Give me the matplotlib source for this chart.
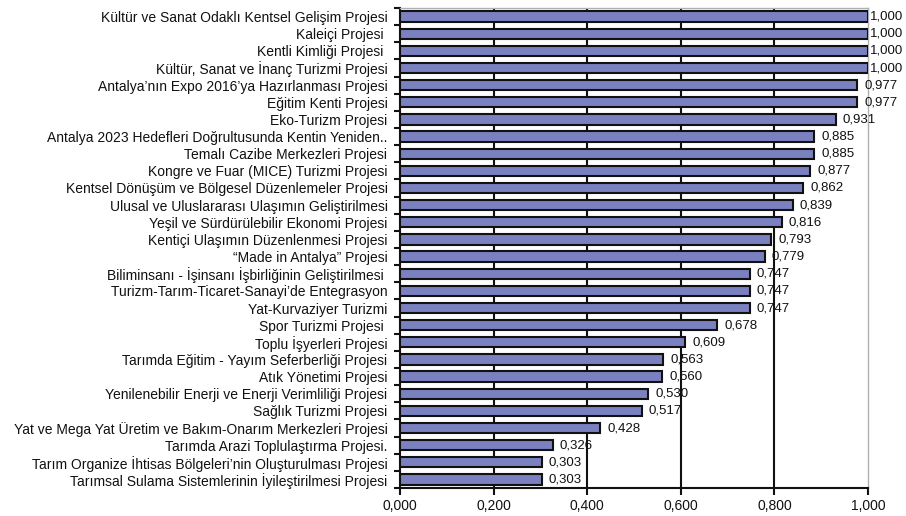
import matplotlib
matplotlib.use("Agg")
import matplotlib.pyplot as plt
import numpy as np

plt.rcParams['font.family'] = ['Liberation Sans', 'DejaVu Sans']

categories = [
    "Kültür ve Sanat Odaklı Kentsel Gelişim Projesi",
    "Kaleiçi Projesi ",
    "Kentli Kimliği Projesi ",
    "Kültür, Sanat ve İnanç Turizmi Projesi",
    "Antalya’nın Expo 2016’ya Hazırlanması Projesi",
    "Eğitim Kenti Projesi",
    "Eko-Turizm Projesi",
    "Antalya 2023 Hedefleri Doğrultusunda Kentin Yeniden..",
    "Temalı Cazibe Merkezleri Projesi",
    "Kongre ve Fuar (MICE) Turizmi Projesi",
    "Kentsel Dönüşüm ve Bölgesel Düzenlemeler Projesi",
    "Ulusal ve Uluslararası Ulaşımın Geliştirilmesi",
    "Yeşil ve Sürdürülebilir Ekonomi Projesi",
    "Kentiçi Ulaşımın Düzenlenmesi Projesi",
    "“Made in Antalya” Projesi",
    "Biliminsanı - İşinsanı İşbirliğinin Geliştirilmesi ",
    "Turizm-Tarım-Ticaret-Sanayi’de Entegrasyon",
    "Yat-Kurvaziyer Turizmi",
    "Spor Turizmi Projesi ",
    "Toplu İşyerleri Projesi",
    "Tarımda Eğitim - Yayım Seferberliği Projesi",
    "Atık Yönetimi Projesi",
    "Yenilenebilir Enerji ve Enerji Verimliliği Projesi",
    "Sağlık Turizmi Projesi",
    "Yat ve Mega Yat Üretim ve Bakım-Onarım Merkezleri Projesi",
    "Tarımda Arazi Toplulaştırma Projesi.",
    "Tarım Organize İhtisas Bölgeleri’nin Oluşturulması Projesi",
    "Tarımsal Sulama Sistemlerinin İyileştirilmesi Projesi",
]
values = [1.000, 1.000, 1.000, 1.000, 0.977, 0.977, 0.931, 0.885, 0.885, 0.877,
          0.862, 0.839, 0.816, 0.793, 0.779, 0.747, 0.747, 0.747, 0.678, 0.609,
          0.563, 0.560, 0.530, 0.517, 0.428, 0.326, 0.303, 0.303]
xticks = [0.0, 0.2, 0.4, 0.6, 0.8, 1.0]
xtick_labels = ["0,000", "0,200", "0,400", "0,600", "0,800", "1,000"]

fig = plt.figure(figsize=(9.06, 5.16), dpi=100)
ax = fig.add_axes([400/906, 1 - 488/516, 468/906, 480/516])

n = len(categories)
y = np.arange(n)
ax.barh(y, values, height=0.6, color='#7a80c0', edgecolor='#111111', linewidth=1.5, zorder=3)

ax.set_ylim(n - 0.5, -0.5)
ax.set_xlim(0, 1.0)

ax.set_yticks(y)
ax.set_yticklabels(categories, fontsize=10, color='#111111')
ax.tick_params(axis='y', which='major', length=0, pad=9)
ax.set_yticks(np.arange(n + 1) - 0.5, minor=True)
ax.tick_params(axis='y', which='minor', length=4, width=1.5, direction='out', color='#111111')

ax.set_xticks(xticks)
ax.set_xticklabels(xtick_labels, fontsize=10, color='#111111')
ax.tick_params(axis='x', length=5, width=1.5, direction='out', pad=3, color='#111111')

for xv in xticks[1:-1]:
    ax.axvline(xv, color='#111111', linewidth=1.5, zorder=1)

for s in ['left', 'bottom']:
    ax.spines[s].set_color('#111111')
    ax.spines[s].set_linewidth(1.5)
for s in ['right', 'top']:
    ax.spines[s].set_color('#b0b0b0')
    ax.spines[s].set_linewidth(1.0)

for yi, v in zip(y, values):
    off = 2 if v >= 0.999 else 7
    ax.annotate(f"{v:.3f}".replace('.', ','), xy=(v, yi), xytext=(off * 0.72, 0),
                textcoords='offset points', va='center', ha='left', fontsize=9.5,
                color='#111111', annotation_clip=False)

fig.savefig("out.png", dpi=100)
